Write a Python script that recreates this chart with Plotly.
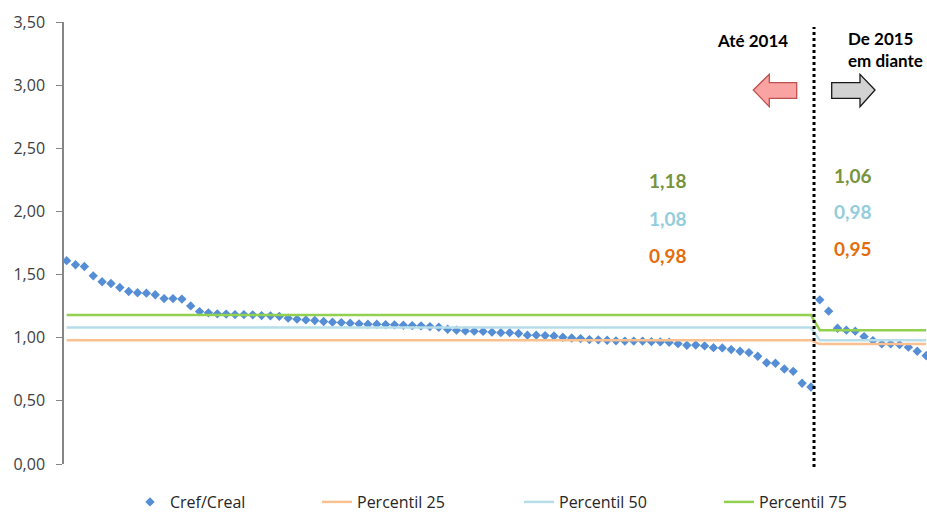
import plotly.graph_objects as go

# Cref/Creal per item, sorted within each period
cref_ate_2014 = [1.610, 1.578, 1.564, 1.490, 1.443, 1.429, 1.398, 1.366, 1.356, 1.353,
                 1.340, 1.310, 1.310, 1.306, 1.252, 1.207, 1.197, 1.189, 1.187, 1.183,
                 1.183, 1.181, 1.175, 1.173, 1.169, 1.155, 1.147, 1.141, 1.136, 1.128,
                 1.123, 1.120, 1.115, 1.110, 1.107, 1.107, 1.104, 1.102, 1.099, 1.096,
                 1.094, 1.088, 1.083, 1.067, 1.060, 1.054, 1.052, 1.050, 1.044, 1.040,
                 1.040, 1.033, 1.020, 1.020, 1.017, 1.014, 1.004, 0.998, 0.993, 0.985,
                 0.983, 0.980, 0.975, 0.973, 0.973, 0.973, 0.969, 0.967, 0.964, 0.953,
                 0.940, 0.942, 0.935, 0.921, 0.919, 0.906, 0.893, 0.882, 0.853, 0.802,
                 0.798, 0.752, 0.734, 0.639, 0.610]
cref_de_2015 = [1.300, 1.210, 1.075, 1.060, 1.052, 1.009, 0.977, 0.951, 0.951, 0.945,
                0.925, 0.893, 0.858]

# Percentiles of each period
periodos = ["Até 2014", "De 2015 em diante"]
percentil_25 = [0.98, 0.95]
percentil_50 = [1.08, 0.98]
percentil_75 = [1.18, 1.06]

cref = cref_ate_2014 + cref_de_2015
x = list(range(len(cref)))
n1, n2 = len(cref_ate_2014), len(cref_de_2015)


def por_item(valores):
    return [valores[0]] * n1 + [valores[1]] * n2


# pixel -> paper helpers for the decorations
W, H = 927, 512
ML, MR, MT, MB = 64, 0, 22, 48


def px(v):
    return (v - ML) / (W - ML - MR)


def py(v):
    return (H - MB - v) / (H - MT - MB)


FONT = "Open Sans"
FONT_BOLD = "Lato"
fig = go.Figure()

fig.add_trace(go.Scatter(
    x=x, y=cref, name="Cref/Creal", mode="markers", legend="legend",
    marker=dict(symbol="diamond", size=7.2, color="#558ED5"),
))
fig.add_trace(go.Scatter(
    x=x, y=por_item(percentil_25), name="Percentil 25", mode="lines", legend="legend2",
    line=dict(color="#FAC090", width=2.5),
))
fig.add_trace(go.Scatter(
    x=x, y=por_item(percentil_50), name="Percentil 50", mode="lines", legend="legend3",
    line=dict(color="#B7DEE8", width=2.5),
))
fig.add_trace(go.Scatter(
    x=x, y=por_item(percentil_75), name="Percentil 75", mode="lines", legend="legend4",
    line=dict(color="#92D050", width=2.5),
))

# Period divider
divisor = n1 - 0.65
fig.add_shape(type="line", xref="x", yref="paper", x0=divisor, x1=divisor,
              y0=py(467), y1=py(27),
              line=dict(color="black", width=3, dash="dot"))

# Arrows
seta_esq = [(753.3, 90), (769.3, 74.3), (769.3, 82.7), (796.7, 82.7),
            (796.7, 98.3), (769.3, 98.3), (769.3, 106.7)]
seta_dir = [(875, 90), (860, 74.3), (860, 82.7), (831.7, 82.7),
            (831.7, 98.3), (860, 98.3), (860, 106.7)]


def caminho(pts):
    return "M " + " L ".join(f"{px(a):.5f},{py(b):.5f}" for a, b in pts) + " Z"


fig.add_shape(type="path", xref="paper", yref="paper", path=caminho(seta_esq),
              fillcolor="#F9A3A3", line=dict(color="#C0504D", width=1.3))
fig.add_shape(type="path", xref="paper", yref="paper", path=caminho(seta_dir),
              fillcolor="#D2D2D2", line=dict(color="#1A1A1A", width=1.3))

anots = [
    dict(x=px(752), y=py(41), text="<b>Até 2014</b>", xanchor="center",
         font=dict(size=17, color="black")),
    dict(x=px(846), y=py(49), text="<b>De 2015<br>em diante</b>", xanchor="left",
         align="left", font=dict(size=17, color="black")),
]
cores = {"p75": "#77933C", "p50": "#93CDDD", "p25": "#E46C0A"}
rot_y_esq = [180.3, 218.3, 255]
rot_y_dir = [175, 211.7, 249]
for vals, cx, ys in [((percentil_75[0], percentil_50[0], percentil_25[0]), 668, rot_y_esq),
                     ((percentil_75[1], percentil_50[1], percentil_25[1]), 853, rot_y_dir)]:
    for v, c, yy in zip(vals, ("p75", "p50", "p25"), ys):
        anots.append(dict(x=px(cx), y=py(yy), xanchor="center",
                          text=f"<b>{v:.2f}</b>".replace(".", ","),
                          font=dict(size=19, color=cores[c])))
for a in anots:
    a.update(xref="paper", yref="paper", showarrow=False, yanchor="middle",
             font=dict(family=FONT_BOLD, **a["font"]))
fig.update_layout(annotations=anots)


def legenda(xpix):
    return dict(orientation="h", x=px(xpix), xanchor="left", y=py(485), yanchor="top",
                font=dict(family=FONT, size=16, color="#262626"),
                bgcolor="rgba(0,0,0,0)")


fig.update_layout(
    width=W, height=H,
    margin=dict(l=ML, r=MR, t=MT, b=MB, pad=0, autoexpand=False),
    paper_bgcolor="white", plot_bgcolor="white",
    separators=",.",
    font=dict(family=FONT, size=16, color="#404040"),
    showlegend=True,
    legend=legenda(130), legend2=legenda(317), legend3=legenda(519), legend4=legenda(719),
    xaxis=dict(range=[-0.3, len(cref) - 0.9], showticklabels=False, showgrid=False,
               zeroline=False, showline=False, ticks=""),
    yaxis=dict(range=[0, 3.5], dtick=0.5, tickformat=".2f", showgrid=False,
               zeroline=False, showline=True, linecolor="#868686", linewidth=1.5,
               ticks="outside", ticklen=6, tickcolor="#868686", tickwidth=1.2,
               ticklabelstandoff=8, tickfont=dict(size=16, color="#404040")),
)

fig.write_html("out.html")
